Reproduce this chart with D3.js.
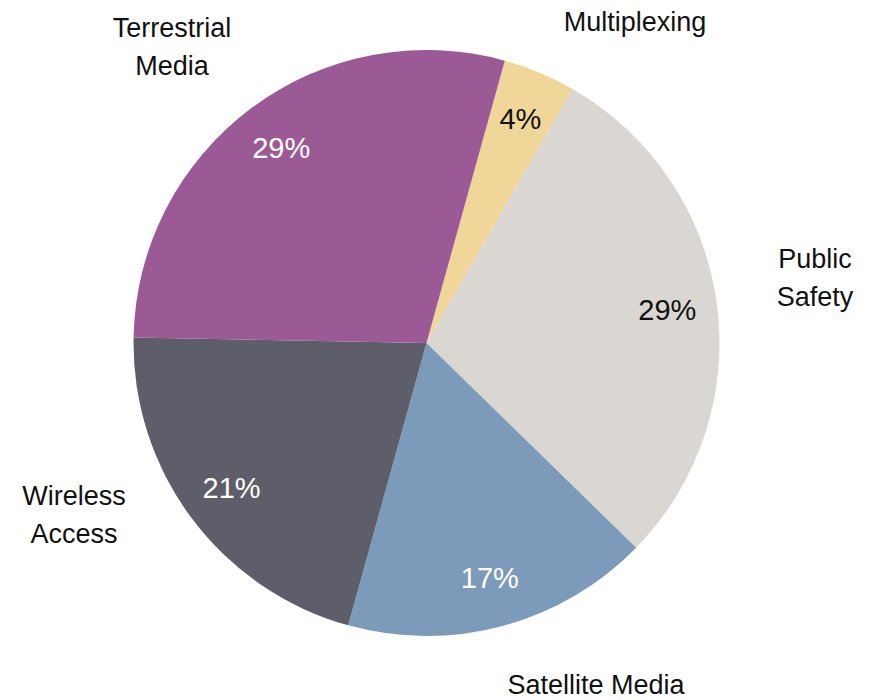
<!DOCTYPE html>
<html>
<head>
<meta charset="utf-8">
<script src="https://cdn.jsdelivr.net/npm/d3@7"></script>
<style>
  html, body { margin: 0; padding: 0; background: #fff; }
  svg { display: block; }
  text { font-family: "Liberation Sans", Arial, Helvetica, sans-serif; }
</style>
</head>
<body>
<svg id="chart" width="875" height="700"></svg>
<script>
// Market share by application segment (percent)
const categories = ["Multiplexing", "Public Safety", "Satellite Media", "Wireless Access", "Terrestrial Media"];
const shares = [4, 29, 17, 21, 29];
const categoryLines = [["Multiplexing"], ["Public", "Safety"], ["Satellite Media"], ["Wireless", "Access"], ["Terrestrial", "Media"]];

const colors = ["#F1D699", "#DAD6D1", "#7C9BBB", "#5E5D6A", "#9B5A96"];
const valueTextColors = ["#111", "#111", "#fff", "#fff", "#fff"];
// Anchor points for the outside category names
const namePos = [[635, 22], [815, 259], [596, 685], [74, 496], [172, 28]];

const width = 875, height = 700;
const cx = 426.5, cy = 343, radius = 293;
const startDeg = 15.5;

const svg = d3.select("#chart");
const g = svg.append("g").attr("transform", `translate(${cx},${cy})`);

const data = categories.map((c, i) => ({ name: c, value: shares[i], i }));

const pie = d3.pie()
  .value(d => d.value)
  .sort(null)
  .startAngle(startDeg * Math.PI / 180)
  .endAngle(startDeg * Math.PI / 180 + 2 * Math.PI);

const arcs = pie(data);
const arc = d3.arc().innerRadius(0).outerRadius(radius);
const labelArc = d3.arc().innerRadius(radius * 0.83).outerRadius(radius * 0.83);

g.selectAll("path.slice")
  .data(arcs)
  .join("path")
  .attr("class", "slice")
  .attr("d", arc)
  .attr("fill", d => colors[d.data.i]);

g.selectAll("text.value")
  .data(arcs)
  .join("text")
  .attr("class", "value")
  .attr("transform", d => `translate(${labelArc.centroid(d)})`)
  .attr("text-anchor", "middle")
  .attr("dominant-baseline", "central")
  .attr("font-size", 29)
  .attr("fill", d => valueTextColors[d.data.i])
  .text(d => d3.format(".0f")(d.data.value) + "%");

const names = svg.selectAll("text.name")
  .data(data)
  .join("text")
  .attr("class", "name")
  .attr("text-anchor", "middle")
  .attr("font-size", 27)
  .attr("fill", "#111");

names.each(function(d) {
  const [x, y] = namePos[d.i];
  d3.select(this).selectAll("tspan")
    .data(categoryLines[d.i])
    .join("tspan")
    .attr("x", x)
    .attr("y", (t, k) => y + k * 38)
    .attr("dy", "0.35em")
    .text(t => t);
});
</script>
</body>
</html>
